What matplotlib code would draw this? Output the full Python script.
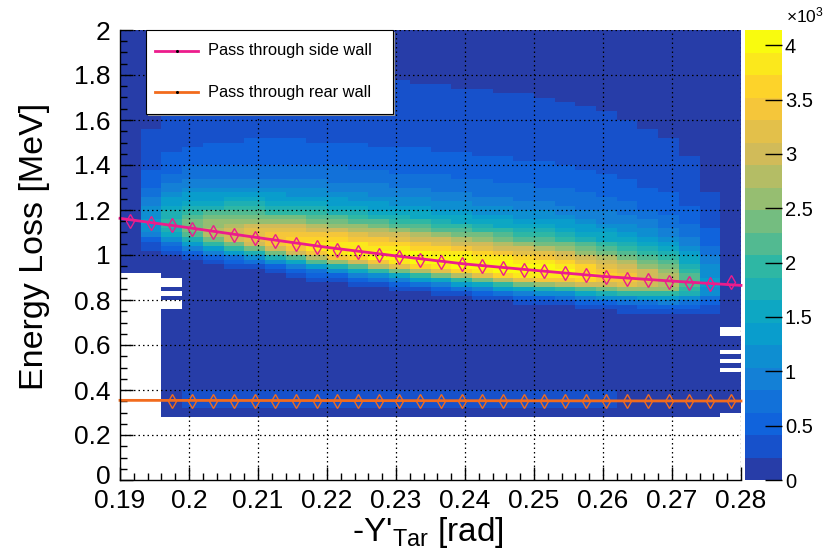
import numpy as np
import matplotlib
matplotlib.use("Agg")
import matplotlib.pyplot as plt
from matplotlib.colors import LinearSegmentedColormap, ListedColormap, BoundaryNorm
from matplotlib.patches import Rectangle
from matplotlib.lines import Line2D
from matplotlib.transforms import ScaledTranslation

plt.rcParams['font.family'] = ['Liberation Sans', 'DejaVu Sans']
plt.rcParams['mathtext.fontset'] = 'custom'
plt.rcParams['mathtext.rm'] = 'Liberation Sans'
plt.rcParams['mathtext.it'] = 'Liberation Sans:italic'

# ---------------- data ----------------
# -Y'_Tar binning (30 bins) and energy-loss binning (100 bins)
x_edges = np.linspace(0.19, 0.28, 31)
e_edges = np.linspace(0.0, 2.0, 101)
x_centers = 0.5 * (x_edges[:-1] + x_edges[1:])
e_centers = 0.5 * (e_edges[:-1] + e_edges[1:])

# most probable energy loss per -Y'_Tar bin, side-wall path
side_E = [1.150, 1.144, 1.133, 1.116, 1.101, 1.088, 1.076, 1.061, 1.050, 1.035,
          1.024, 1.012, 1.002, 0.992, 0.980, 0.970, 0.960, 0.951, 0.941, 0.932,
          0.927, 0.920, 0.910, 0.902, 0.894, 0.887, 0.880, 0.876, 0.870, 0.878]
# smooth curve for the side-wall path
side_fit_x = [0.19, 0.20, 0.21, 0.22, 0.23, 0.24, 0.25, 0.26, 0.27, 0.28]
side_fit_E = [1.163, 1.121, 1.077, 1.034, 0.996, 0.960, 0.932, 0.905, 0.884, 0.865]

# rear-wall path (points start at the third bin)
rear_first_bin = 2
rear_E = [0.352] * 28
rear_fit_x = [0.19, 0.28]
rear_fit_E = [0.354, 0.351]

# event density per -Y'_Tar bin: peak height, core width below peak, tail width above
peak_counts = [120, 1200, 1900, 2400, 2700, 3000, 3250, 3450, 3650, 3780,
               3870, 3920, 3970, 4030, 4060, 4080, 4080, 4080, 4060, 4040,
               4000, 3900, 3720, 3530, 3330, 3080, 2780, 2200, 1250, 120]
core_sigma = 0.058
tail_width = 0.152
floor_counts = 60
rear_band_counts = 300
rear_band_bins = (3, 24)
rear_band_E = (0.32, 0.40)

# empty regions: (first bin, last bin, E low, E high)
empty_regions = [(0, 1, 0.0, 0.92), (2, 28, 0.0, 0.28), (29, 29, 0.0, 0.30),
                 (2, 2, 0.86, 0.90), (2, 2, 0.82, 0.84), (2, 2, 0.76, 0.80),
                 (29, 29, 0.64, 0.68), (29, 29, 0.56, 0.58),
                 (29, 29, 0.52, 0.54), (29, 29, 0.48, 0.50)]

# ---------------- build histogram ----------------
H = np.zeros((len(e_centers), len(x_centers)))
for i in range(len(x_centers)):
    d = e_centers - side_E[i]
    shape = np.where(d < 0, np.exp(-0.5 * (d / core_sigma) ** 2),
                     1.0 / (1.0 + (d / tail_width) ** 2))
    H[:, i] = floor_counts + peak_counts[i] * shape
band = (e_centers > rear_band_E[0]) & (e_centers < rear_band_E[1])
H[band, rear_band_bins[0]:rear_band_bins[1]] += rear_band_counts
for c0, c1, lo, hi in empty_regions:
    rows = (e_centers > lo) & (e_centers < hi)
    H[np.ix_(rows, np.arange(c0, c1 + 1))] = 0.0
Hm = np.ma.masked_less_equal(H, 0.0)

# ---------------- palette (kBird, 20 contours) ----------------
stops = [0.0, 0.125, 0.25, 0.375, 0.5, 0.625, 0.75, 0.875, 1.0]
red = [0.2082, 0.0592, 0.0780, 0.0232, 0.1802, 0.5301, 0.8186, 0.9956, 0.9764]
green = [0.1664, 0.3599, 0.5041, 0.6419, 0.7178, 0.7492, 0.7328, 0.7862, 0.9832]
blue = [0.5293, 0.8684, 0.8385, 0.7914, 0.6425, 0.4662, 0.3499, 0.1968, 0.0539]
bird = LinearSegmentedColormap('bird', {
    'red': [(s, v, v) for s, v in zip(stops, red)],
    'green': [(s, v, v) for s, v in zip(stops, green)],
    'blue': [(s, v, v) for s, v in zip(stops, blue)]}, N=255)
ncont = 20
level_cols = [bird(int((k + 0.99) * 255 / ncont) / 254.0) for k in range(ncont)]
cmap = ListedColormap(level_cols)
cmap.set_over(level_cols[-1])
zmax = float(H.max())
norm = BoundaryNorm(np.linspace(0, zmax, ncont + 1), ncont)

# ---------------- figure ----------------
W, Hpx = 824, 555
fig = plt.figure(figsize=(W / 100, Hpx / 100), dpi=100)

def fx(px):
    return px / W

def fy(py):
    return 1 - py / Hpx

ax = fig.add_axes([fx(120), fy(480), fx(741) - fx(120), fy(30) - fy(480)])
mesh = ax.pcolormesh(x_edges, e_edges, Hm, cmap=cmap, norm=norm, zorder=1)
ax.set_xlim(0.19, 0.28)
ax.set_ylim(0, 2)

ax.set_xticks(np.arange(0.19, 0.2801, 0.01))
ax.set_xticklabels(['0.19', '0.2', '0.21', '0.22', '0.23', '0.24', '0.25',
                    '0.26', '0.27', '0.28'])
ax.set_xticks(np.arange(0.19, 0.2801, 0.002), minor=True)
ax.set_yticks(np.arange(0, 2.01, 0.2))
ax.set_yticklabels(['0', '0.2', '0.4', '0.6', '0.8', '1', '1.2', '1.4', '1.6', '1.8', '2'])
ax.set_yticks(np.arange(0, 2.001, 0.05), minor=True)
ax.tick_params(axis='both', which='both', direction='in', colors='black',
               labelsize=19, width=1)
ax.tick_params(axis='x', which='major', length=9.5, pad=6.5)
ax.tick_params(axis='x', which='minor', length=5)
ax.tick_params(axis='y', which='major', length=9.5, pad=7)
ax.tick_params(axis='y', which='minor', length=5)
# lift the "0" label a little so it clears the first x label
zero_lbl = ax.get_yticklabels()[0]
zero_lbl.set_transform(zero_lbl.get_transform() +
                       ScaledTranslation(0, 4 / 72, fig.dpi_scale_trans))
for side in ('top', 'right'):
    ax.spines[side].set_visible(False)
for side in ('left', 'bottom'):
    ax.spines[side].set_linewidth(1.0)
    ax.spines[side].set_zorder(6)

# dotted grid at major ticks, drawn over the colours
for xv in np.arange(0.20, 0.2801, 0.01):
    ax.axvline(xv, color='black', lw=0.9, ls=(0, (1.2, 2.4)), zorder=3)
for yv in np.arange(0.2, 2.001, 0.2):
    ax.axhline(yv, color='black', lw=0.9, ls=(0, (1.2, 2.4)), zorder=3)

pink = '#ec1c8c'
orange = '#f26b1d'
ax.plot(side_fit_x, side_fit_E, color=pink, lw=2.0, zorder=4, clip_on=False)
ax.plot(x_centers, side_E, ls='none', marker='d', ms=6.8, mfc='none',
        mec=pink, mew=1.0, zorder=5)
ax.plot(rear_fit_x, rear_fit_E, color=orange, lw=2.0, zorder=4, clip_on=False)
ax.plot(x_centers[rear_first_bin:], rear_E, ls='none', marker='d', ms=6.8,
        mfc='none', mec=orange, mew=1.0, zorder=5)

# axis titles
fig.text(fx(35), fy(246), 'Energy Loss [MeV]', rotation=90, ha='center',
         va='center', fontsize=24.5)
fig.text(fx(428), fy(533), r"-Y'$_{\mathrm{Tar}}$ [rad]", ha='center',
         va='center', fontsize=24)

# colour scale
cax = fig.add_axes([fx(745), fy(480), fx(782) - fx(745), fy(30) - fy(480)])
cb = fig.colorbar(mesh, cax=cax)
cb.outline.set_visible(False)
cb_ticks = np.arange(0, 4001, 500)
cb.set_ticks(cb_ticks)
cb.set_ticklabels(['0', '0.5', '1', '1.5', '2', '2.5', '3', '3.5', '4'])
cax.minorticks_off()
cax.tick_params(axis='y', direction='in', length=12.5, width=1, labelsize=14.5,
                pad=2, colors='black')
fig.text(fx(786), fy(15), r'$\times$10$^{3}$', ha='left', va='center',
         fontsize=12.5)

# legend box
fig.patches.append(Rectangle((fx(148), fy(116)), fx(393) - fx(146), fy(30) - fy(114),
                             transform=fig.transFigure, facecolor='#9a9a9a',
                             edgecolor='none', zorder=8))
fig.patches.append(Rectangle((fx(146), fy(114)), fx(393) - fx(146), fy(30) - fy(114),
                             transform=fig.transFigure, facecolor='white',
                             edgecolor='black', lw=0.8, zorder=9))
for ycen, col, txt in [(51, pink, 'Pass through side wall'),
                       (92, orange, 'Pass through rear wall')]:
    fig.lines.append(Line2D([fx(155), fx(198)], [fy(ycen), fy(ycen)],
                            transform=fig.transFigure, color=col, lw=2.0, zorder=10))
    fig.lines.append(Line2D([fx(176.5)], [fy(ycen)], transform=fig.transFigure,
                            ls='none', marker='o', ms=1.2, color='black', zorder=11))
    fig.text(fx(208), fy(ycen), txt, ha='left', va='center', fontsize=11.8, zorder=11)

fig.savefig('out.png', dpi=100)
